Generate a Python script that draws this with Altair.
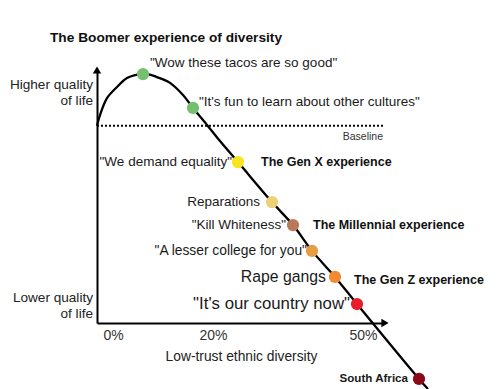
import altair as alt
import pandas as pd

# ---- data ----
# x: low-trust ethnic diversity (%), y: quality of life (baseline = 0)
curve_x = [-3.2, -2.6, -1.2, 0.8, 2.8, 4.4, 6.0, 7.4, 8.8, 11.4, 14.0, 16.0, 18.8, 21.4,
           25.0, 31.8, 36.0, 39.8, 44.4, 48.8, 61.2, 63.0]
curve_y = [0.0, 4.2, 10.9, 15.3, 18.8, 20.0, 20.4, 20.2, 19.2, 16.9, 12.1, 7.0, 0.3, -6.1,
           -14.4, -30.2, -39.3, -49.5, -59.8, -70.5, -100.1, -104.1]

point_labels = ['"Wow these tacos are so good"',
                '"It\'s fun to learn about other cultures"',
                '"We demand equality"',
                'Reparations',
                '"Kill Whiteness"',
                '"A lesser college for you"',
                'Rape gangs',
                '"It\'s our country now"',
                'South Africa']
point_x = [6.0, 16.0, 25.0, 31.8, 36.0, 39.8, 44.4, 48.8, 61.2]
point_y = [20.4, 7.0, -14.4, -30.2, -39.3, -49.5, -59.8, -70.5, -100.1]
point_colors = ["#74c06e", "#74c06e", "#f8e520", "#edd176", "#b97a58",
                "#e69b45", "#f18a32", "#e91c2b", "#8a0a1a"]

generation_labels = ["The Gen X experience", "The Millennial experience", "The Gen Z experience"]
generation_at = ['"We demand equality"', '"Kill Whiteness"', 'Rape gangs']

x_ticks = [0, 20, 50]
x_domain = [-3.2, 54.4]
y_domain = [-78, 22]
baseline_value = 0
title_text = "The Boomer experience of diversity"
x_title = "Low-trust ethnic diversity"
y_top_label = "Higher quality\nof life"
y_bottom_label = "Lower quality\nof life"

# ---- styling (not data) ----
FONT = "Liberation Sans"
label_style = {
    '"Wow these tacos are so good"': dict(align="left", dx=7, dy=-11, size=13.5, bold=False),
    '"It\'s fun to learn about other cultures"': dict(align="left", dx=6, dy=-6, size=13.5, bold=False),
    '"We demand equality"': dict(align="right", dx=-6, dy=0, size=13.5, bold=False),
    'Reparations': dict(align="right", dx=-12, dy=0, size=13.5, bold=False),
    '"Kill Whiteness"': dict(align="right", dx=-7, dy=0, size=13.5, bold=False),
    '"A lesser college for you"': dict(align="right", dx=-5, dy=0, size=13.8, bold=False),
    'Rape gangs': dict(align="right", dx=-9, dy=0, size=15.8, bold=False),
    '"It\'s our country now"': dict(align="right", dx=-7, dy=0, size=16.8, bold=False),
    'South Africa': dict(align="right", dx=-11, dy=0, size=11.6, bold=True),
}
gen_style = {
    "The Gen X experience": dict(dx=23, dy=0),
    "The Millennial experience": dict(dx=20, dy=0),
    "The Gen Z experience": dict(dx=19, dy=3),
}

W, H = 288, 253
xs = alt.Scale(domain=x_domain, nice=False, zero=False)
ys = alt.Scale(domain=y_domain, nice=False, zero=False)

curve_df = pd.DataFrame({"x": curve_x, "y": curve_y})
pts_df = pd.DataFrame({"x": point_x, "y": point_y, "label": point_labels, "color": point_colors})

base = alt.Chart(curve_df).encode(
    x=alt.X("x:Q", scale=xs,
            axis=alt.Axis(values=x_ticks, labelExpr="datum.value + '%'", title=x_title,
                          domainColor="black", domainWidth=2, ticks=False, grid=False,
                          labelFont=FONT, labelFontSize=14, labelColor="#333",
                          labelPadding=5, labelFlush=False,
                          titleFont=FONT, titleFontSize=13.8, titleFontWeight="normal",
                          titleColor="#222", titlePadding=7)),
    y=alt.Y("y:Q", scale=ys,
            axis=alt.Axis(values=[], title=None, domainColor="black", domainWidth=2,
                          ticks=False, grid=False, labels=False)),
)

curve = base.mark_line(color="black", strokeWidth=2.3, interpolate="catmull-rom", clip=False)

baseline = alt.Chart(pd.DataFrame({"x": [x_domain[0]], "x2": [x_domain[1]], "y": [baseline_value]})).mark_rule(
    color="black", strokeWidth=2, strokeDash=[2, 2]).encode(
    x=alt.X("x:Q", scale=xs), x2="x2:Q", y=alt.Y("y:Q", scale=ys))

baseline_txt = alt.Chart(pd.DataFrame({"x": [x_domain[1]], "y": [baseline_value], "t": ["Baseline"]})).mark_text(
    align="right", baseline="middle", dx=-2, dy=11, font=FONT, fontSize=10.5, color="#333").encode(
    x=alt.X("x:Q", scale=xs), y=alt.Y("y:Q", scale=ys), text="t:N")

arrows = alt.Chart(pd.DataFrame({
    "x": [x_domain[0], x_domain[1]], "y": [y_domain[1], y_domain[0]],
    "shape": ["triangle-up", "triangle-right"]})).mark_point(
    filled=True, color="black", opacity=1, size=70).encode(
    x=alt.X("x:Q", scale=xs), y=alt.Y("y:Q", scale=ys),
    shape=alt.Shape("shape:N", scale=None))

points = alt.Chart(pts_df).mark_circle(size=150, opacity=1, clip=False).encode(
    x=alt.X("x:Q", scale=xs), y=alt.Y("y:Q", scale=ys),
    color=alt.Color("color:N", scale=None))

layers = [curve, baseline, baseline_txt, arrows, points]

for lab, st in label_style.items():
    d = pts_df[pts_df["label"] == lab]
    layers.append(alt.Chart(d).mark_text(
        align=st["align"], baseline="middle", dx=st["dx"], dy=st["dy"], font=FONT,
        fontSize=st["size"], fontWeight="bold" if st["bold"] else "normal", color="#1a1a1a").encode(
        x=alt.X("x:Q", scale=xs), y=alt.Y("y:Q", scale=ys), text="label:N"))

for g, at in zip(generation_labels, generation_at):
    d = pts_df[pts_df["label"] == at].assign(g=g)
    st = gen_style[g]
    layers.append(alt.Chart(d).mark_text(
        align="left", baseline="middle", dx=st["dx"], dy=st["dy"], font=FONT,
        fontSize=12.5, fontWeight="bold", color="#111").encode(
        x=alt.X("x:Q", scale=xs), y=alt.Y("y:Q", scale=ys), text="g:N"))

side_top = alt.Chart(pd.DataFrame({"x": [x_domain[0]], "y": [y_domain[1]], "t": [y_top_label]})).mark_text(
    align="right", baseline="middle", dx=-4, dy=15, lineBreak="\n", font=FONT, fontSize=13.6,
    color="#222", lineHeight=16).encode(x=alt.X("x:Q", scale=xs), y=alt.Y("y:Q", scale=ys), text="t:N")
side_bot = alt.Chart(pd.DataFrame({"x": [x_domain[0]], "y": [y_domain[0]], "t": [y_bottom_label]})).mark_text(
    align="right", baseline="middle", dx=-4, dy=-25, lineBreak="\n", font=FONT, fontSize=13.6,
    color="#222", lineHeight=16).encode(x=alt.X("x:Q", scale=xs), y=alt.Y("y:Q", scale=ys), text="t:N")
layers += [side_top, side_bot]

chart = alt.layer(*layers).properties(
    width=W, height=H,
    title=alt.TitleParams(title_text, anchor="start", frame="group", dx=-47, offset=11, font=FONT,
                          fontSize=13.7, fontWeight="bold", color="#111"),
    autosize="none",
    padding={"left": 89, "top": 62, "right": 107, "bottom": 66},
).configure_view(stroke=None)

chart.save("out.html", embed_options={"renderer": "svg", "actions": False})
